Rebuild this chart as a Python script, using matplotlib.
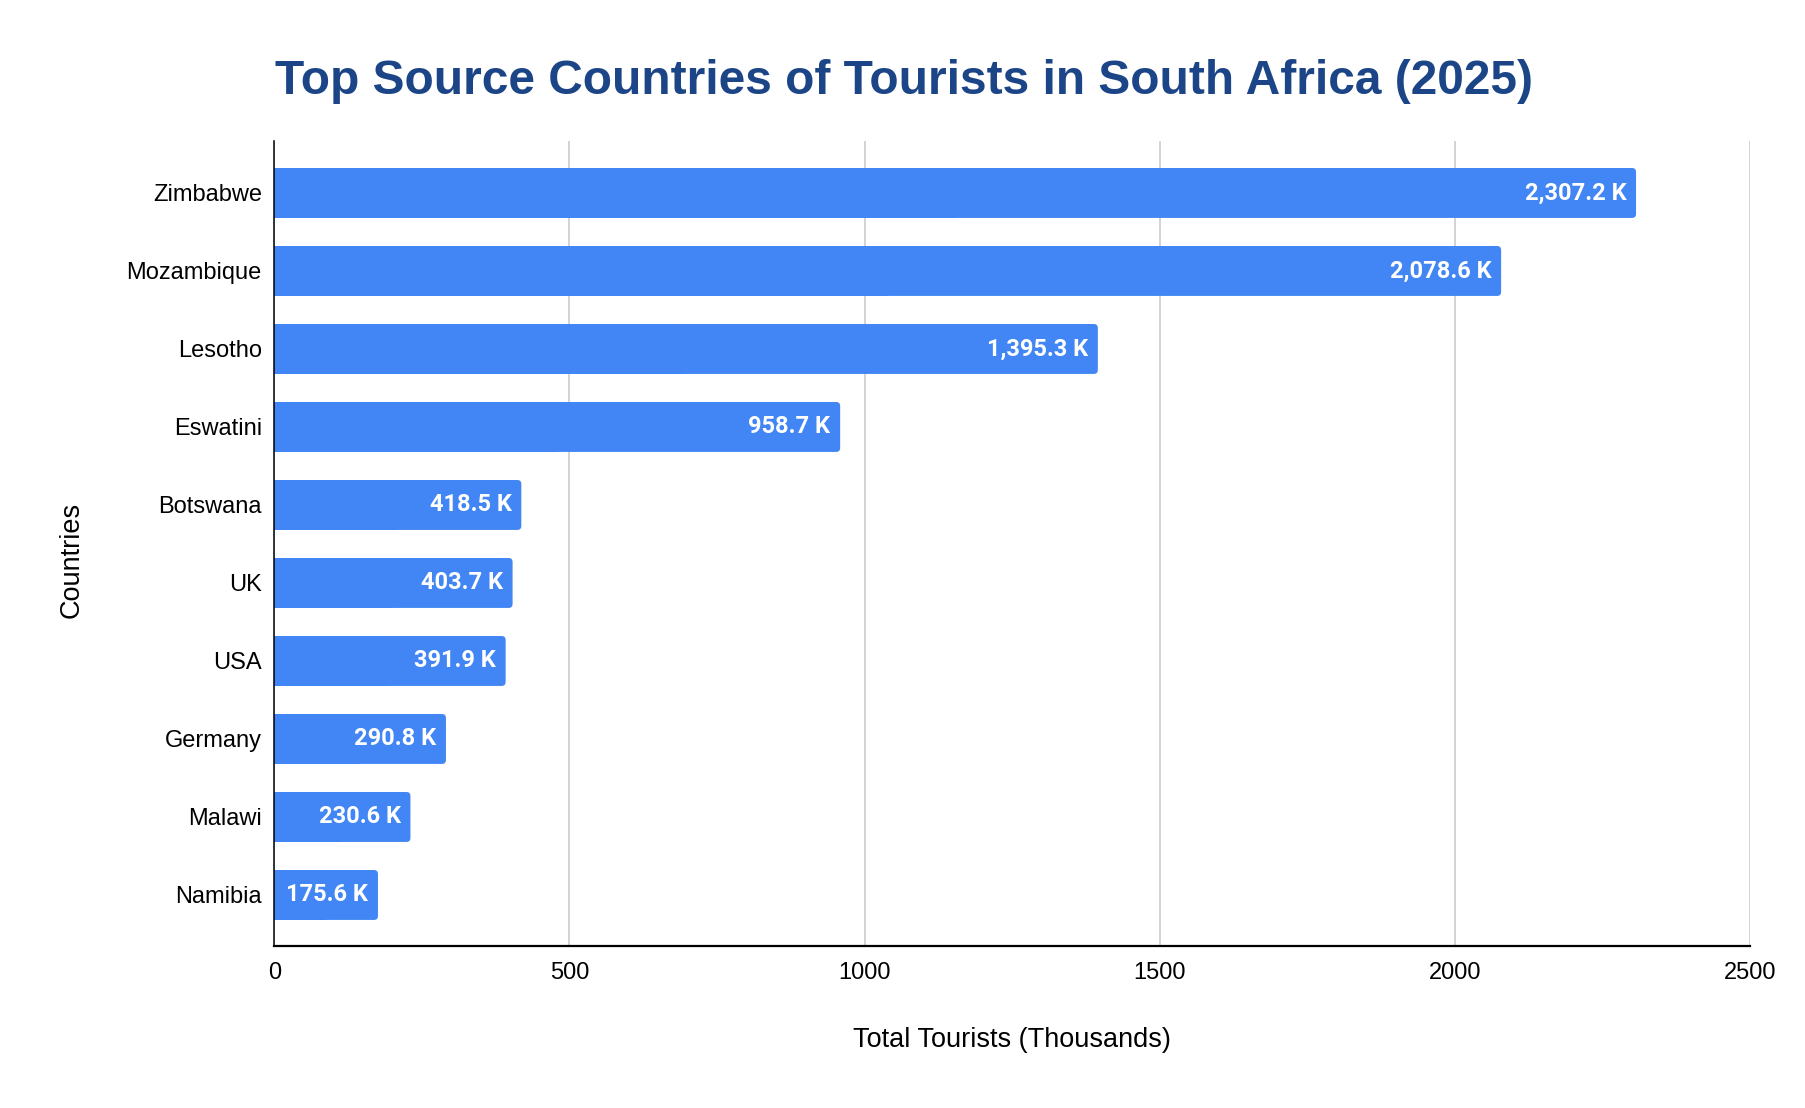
import matplotlib
matplotlib.use("Agg")
import matplotlib.pyplot as plt
from matplotlib.patches import FancyBboxPatch, Rectangle
import numpy as np

plt.rcParams['font.family'] = ['Liberation Sans', 'DejaVu Sans']

# Data
countries = ["Zimbabwe", "Mozambique", "Lesotho", "Eswatini", "Botswana",
             "UK", "USA", "Germany", "Malawi", "Namibia"]
tourists = [2307.2, 2078.6, 1395.3, 958.7, 418.5, 403.7, 391.9, 290.8, 230.6, 175.6]
x_ticks = [0, 500, 1000, 1500, 2000, 2500]

bar_color = '#4285F4'
title_color = '#1C4587'

fig = plt.figure(figsize=(18.06, 11.08), dpi=100)
ax = fig.add_axes([0.1519, 0.1458, 0.8170, 0.7265])

pos = np.arange(len(countries))
ax.set_ylim(9.66, -0.66)
ax.set_xlim(0, 2500)

bars = ax.barh(pos, tourists, height=0.64, color=bar_color, zorder=3)

# swap the plain bars for ones with slightly rounded right corners (~4 px)
bbox = ax.get_window_extent()
px_x = bbox.width / 2500.0
px_y = bbox.height / 10.32
rx = 4.0 / px_x
ry = 4.0 / px_y
for b in bars:
    x0, y0, w, h = b.get_x(), b.get_y(), b.get_width(), b.get_height()
    ax.add_patch(FancyBboxPatch((x0, y0), w, h,
                                boxstyle=f"round,pad=0,rounding_size={rx}",
                                mutation_aspect=ry / rx, linewidth=0,
                                facecolor=bar_color, zorder=3))
    ax.add_patch(Rectangle((x0, y0), w / 2, h, linewidth=0,
                           facecolor=bar_color, zorder=3))
    b.remove()

# value labels inside the bar ends
for y, v in zip(pos, tourists):
    ax.annotate(f"{v:,.1f} K", xy=(v, y), xytext=(-7, 0), textcoords='offset points',
                ha='right', va='center', color='white', fontsize=17,
                fontweight='bold', family=['Roboto', 'DejaVu Sans'], zorder=4)

ax.set_yticks(pos)
ax.set_yticklabels(countries, fontsize=17)
ax.set_xticks(x_ticks)
ax.set_xticklabels([str(t) for t in x_ticks], fontsize=17)
ax.tick_params(axis='y', length=0, pad=9)
ax.tick_params(axis='x', length=0, pad=11)

ax.grid(axis='x', color='#CCCCCC', linewidth=1.2, zorder=0)
for s in ['top', 'right']:
    ax.spines[s].set_visible(False)
ax.spines['left'].set_color('black')
ax.spines['left'].set_linewidth(1.1)
ax.spines['bottom'].set_color('black')
ax.spines['bottom'].set_linewidth(1.6)
ax.spines['left'].set_zorder(5)

ax.set_xlabel("Total Tourists (Thousands)", fontsize=19.5)
ax.xaxis.set_label_coords(0.5, -0.0995)
ax.set_ylabel("Countries", fontsize=19.5)
ax.yaxis.set_label_coords(-0.1286, 0.48)

fig.text(0.5008, 0.9152, "Top Source Countries of Tourists in South Africa (2025)",
         ha='center', va='baseline', fontsize=34.5, fontweight='bold', color=title_color)

fig.savefig("out.png", dpi=100, facecolor='white')
